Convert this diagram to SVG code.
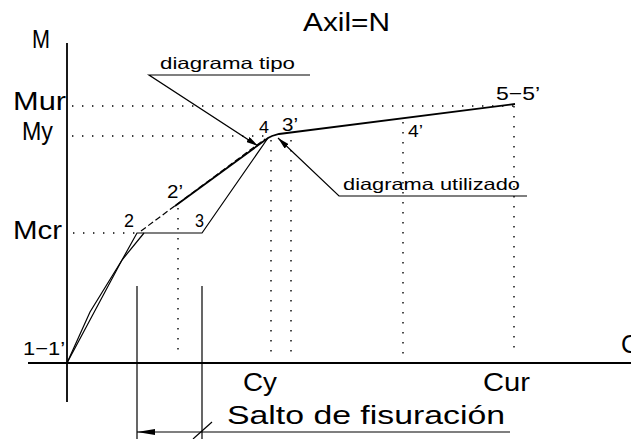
<svg xmlns="http://www.w3.org/2000/svg" width="631" height="439" viewBox="0 0 631 439">
<style>
text{font-family:"Liberation Sans",Arial,sans-serif;fill:#000}
.big{font-size:25px}
.mid{font-size:19px}
.sm{font-size:16.5px}
.ln{stroke:#000;fill:none;stroke-width:1.2}
.thick{stroke:#000;fill:none;stroke-width:1.8}
.dot{stroke:#000;fill:none;stroke-width:1.4;stroke-dasharray:1.4 8.6}
.dash{stroke:#000;fill:none;stroke-width:1.2;stroke-dasharray:6 3}
</style>
<defs>
<marker id="ah" viewBox="0 0 12 6" refX="12" refY="3" markerWidth="12" markerHeight="6" markerUnits="userSpaceOnUse" orient="auto">
<path d="M0,0 L12,3 L0,6 Z" fill="#000"/>
</marker>
<marker id="ahb" viewBox="0 0 18 6" refX="18" refY="3" markerWidth="18" markerHeight="6" markerUnits="userSpaceOnUse" orient="auto">
<path d="M0,0 L18,3 L0,6 Z" fill="#000"/>
</marker>
</defs>
<rect width="631" height="439" fill="#fff"/>
<g id="axes">
<line class="thick" x1="67" y1="43" x2="67" y2="402"/>
<line class="thick" x1="28" y1="363" x2="631" y2="363"/>
</g>
<g id="guides">
<line class="dot" x1="72" y1="106" x2="516" y2="106"/>
<line class="dot" x1="72" y1="136" x2="268" y2="136"/>
<line class="dot" x1="73" y1="233" x2="137" y2="233"/>
<line class="dot" x1="178" y1="208" x2="178" y2="356"/>
<line class="dot" x1="271" y1="140" x2="271" y2="356"/>
<line class="dot" x1="291" y1="140" x2="291" y2="356"/>
<line class="dot" x1="403" y1="122" x2="403" y2="356"/>
<line class="dot" x1="514" y1="106" x2="514" y2="356"/>
</g>
<g id="curves">
<path class="ln" d="M67,363 L90,312 L122,260 L137,233 L202,233 L268,138"/>
<path class="ln" d="M67,363 L122,260 L144,233"/>
<path class="dash" d="M141,231 L265,139"/>
<path class="thick" d="M175,206 L268,138 L272,136 L279,134 L515,104"/>
</g>
<g id="connectors">
<polyline class="ln" points="310,75 149,75 258,146" marker-end="url(#ah)"/>
<polyline class="ln" points="527,196 339,196 278,138" marker-end="url(#ah)"/>
<line class="ln" x1="137" y1="286" x2="137" y2="439"/>
<line class="ln" x1="202" y1="286" x2="202" y2="439"/>
<line class="ln" x1="510" y1="432" x2="137" y2="432" marker-end="url(#ahb)"/>
<line class="ln" x1="193" y1="439" x2="212" y2="422"/>
</g>
<g id="labels">
<text class="big" x="303" y="31" textLength="87" lengthAdjust="spacingAndGlyphs">Axil=N</text>
<text class="big" x="32" y="48" textLength="18" lengthAdjust="spacingAndGlyphs">M</text>
<text class="big" x="13" y="110" textLength="53" lengthAdjust="spacingAndGlyphs">Mur</text>
<text class="big" x="22" y="140" textLength="31" lengthAdjust="spacingAndGlyphs">My</text>
<text class="big" x="13" y="239" textLength="49" lengthAdjust="spacingAndGlyphs">Mcr</text>
<text class="mid" x="23" y="355" textLength="42" lengthAdjust="spacingAndGlyphs">1−1’</text>
<text class="mid" x="124" y="227" textLength="10" lengthAdjust="spacingAndGlyphs">2</text>
<text class="mid" x="195" y="227" textLength="9" lengthAdjust="spacingAndGlyphs">3</text>
<text class="mid" x="167" y="198" textLength="16" lengthAdjust="spacingAndGlyphs">2’</text>
<text class="sm" x="259" y="133" textLength="10" lengthAdjust="spacingAndGlyphs">4</text>
<text class="mid" x="282" y="131" textLength="16" lengthAdjust="spacingAndGlyphs">3’</text>
<text class="sm" x="408" y="137" textLength="15" lengthAdjust="spacingAndGlyphs">4’</text>
<text class="mid" x="496" y="100" textLength="44" lengthAdjust="spacingAndGlyphs">5−5’</text>
<text class="big" x="243" y="391" textLength="34" lengthAdjust="spacingAndGlyphs">Cy</text>
<text class="big" x="483" y="391" textLength="47" lengthAdjust="spacingAndGlyphs">Cur</text>
<text class="big" x="621" y="353">C</text>
<text class="big" x="227" y="424" textLength="278" lengthAdjust="spacingAndGlyphs">Salto de fisuración</text>
<text class="sm" x="160" y="69" textLength="135" lengthAdjust="spacingAndGlyphs">diagrama tipo</text>
<text class="sm" x="343" y="190" textLength="177" lengthAdjust="spacingAndGlyphs">diagrama utilizado</text>
</g>
</svg>
